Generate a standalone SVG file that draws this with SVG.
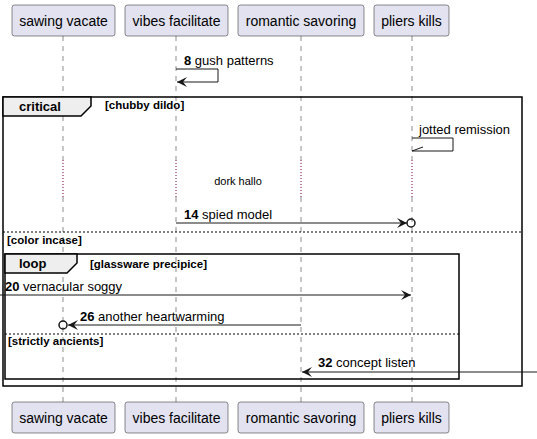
<svg xmlns="http://www.w3.org/2000/svg" width="537" height="439" viewBox="0 0 537 439">
<defs>
<style>
text{font-family:"Liberation Sans",Arial,sans-serif;fill:#000}
.pbox{fill:#E2E2F0;stroke:#181818;stroke-width:0.5}
.pt{font-size:14px}
.life{stroke:#181818;stroke-width:0.5;stroke-dasharray:5,5}
.delay{stroke:#800040;stroke-width:1;stroke-dasharray:1,2}
.msg{stroke:#181818;stroke-width:1;fill:none}
.mt{font-size:13px}
.num{font-weight:bold}
.frame{fill:none;stroke:#000;stroke-width:1.5}
.tab{fill:#EEEEEE;stroke:#000;stroke-width:1.5}
.ft{font-size:13px;font-weight:bold}
.fc{font-size:11.5px;font-weight:bold}
.sep{stroke:#000;stroke-width:1;stroke-dasharray:2,2}
</style>
<marker id="ah" markerWidth="12" markerHeight="10" refX="10" refY="5" orient="auto" markerUnits="userSpaceOnUse">
<path d="M0,0 L10,5 L0,10 L4,5 Z" fill="#181818"/>
</marker>
</defs>
<g id="lifelines">
<line class="life" x1="63" y1="36" x2="63" y2="160"/>
<line class="delay" x1="63" y1="160" x2="63" y2="197"/>
<line class="life" x1="63" y1="197" x2="63" y2="402"/>
<line class="life" x1="176" y1="36" x2="176" y2="160"/>
<line class="delay" x1="176" y1="160" x2="176" y2="197"/>
<line class="life" x1="176" y1="197" x2="176" y2="402"/>
<line class="life" x1="301" y1="36" x2="301" y2="160"/>
<line class="delay" x1="301" y1="160" x2="301" y2="197"/>
<line class="life" x1="301" y1="197" x2="301" y2="402"/>
<line class="life" x1="412" y1="36" x2="412" y2="160"/>
<line class="delay" x1="412" y1="160" x2="412" y2="197"/>
<line class="life" x1="412" y1="197" x2="412" y2="402"/>
</g>
<g id="frame-critical">
<rect class="frame" x="3" y="97" width="519" height="289"/>
<path class="tab" d="M3,97 H91 V106 L81,116 H3 Z"/>
<text class="ft" x="19" y="111">critical</text>
<text class="fc" x="105" y="109">[chubby dildo]</text>
<line class="sep" x1="3" y1="232" x2="522" y2="232"/>
<text class="fc" x="7" y="244">[color incase]</text>
</g>
<g id="frame-loop">
<rect class="frame" x="5" y="254" width="454" height="125"/>
<path class="tab" d="M5,254 H77 V263 L67,273 H5 Z"/>
<text class="ft" x="19" y="268">loop</text>
<text class="fc" x="90" y="268">[glassware precipice]</text>
<line class="sep" x1="5" y1="334" x2="459" y2="334"/>
<text class="fc" x="8" y="345">[strictly ancients]</text>
</g>
<g id="p-sawing-top"><rect class="pbox" x="12" y="5" width="103" height="31" rx="2.5"/><text class="pt" x="63.5" y="25.5" text-anchor="middle">sawing vacate</text></g>
<g id="p-vibes-top"><rect class="pbox" x="125" y="5" width="103" height="31" rx="2.5"/><text class="pt" x="176.5" y="25.5" text-anchor="middle">vibes facilitate</text></g>
<g id="p-romantic-top"><rect class="pbox" x="238" y="5" width="126" height="31" rx="2.5"/><text class="pt" x="301" y="25.5" text-anchor="middle">romantic savoring</text></g>
<g id="p-pliers-top"><rect class="pbox" x="374" y="5" width="75" height="31" rx="2.5"/><text class="pt" x="411.5" y="25.5" text-anchor="middle">pliers kills</text></g>
<g id="p-sawing-bottom"><rect class="pbox" x="12" y="402" width="103" height="31" rx="2.5"/><text class="pt" x="63.5" y="422.5" text-anchor="middle">sawing vacate</text></g>
<g id="p-vibes-bottom"><rect class="pbox" x="125" y="402" width="103" height="31" rx="2.5"/><text class="pt" x="176.5" y="422.5" text-anchor="middle">vibes facilitate</text></g>
<g id="p-romantic-bottom"><rect class="pbox" x="238" y="402" width="126" height="31" rx="2.5"/><text class="pt" x="301" y="422.5" text-anchor="middle">romantic savoring</text></g>
<g id="p-pliers-bottom"><rect class="pbox" x="374" y="402" width="75" height="31" rx="2.5"/><text class="pt" x="411.5" y="422.5" text-anchor="middle">pliers kills</text></g>
<g id="connectors">
<polyline class="msg" points="176,69 218,69 218,82 177,82" marker-end="url(#ah)"/>
<text class="mt" x="184" y="65"><tspan class="num">8</tspan> gush patterns</text>
<polyline class="msg" points="412,138 453,138 453,151 412,151"/>
<line class="msg" x1="412" y1="151" x2="423" y2="147"/>
<text class="mt" x="419" y="134">jotted remission</text>
<text x="238" y="185" font-size="11" text-anchor="middle">dork hallo</text>
<line class="msg" x1="176" y1="223" x2="407" y2="223" marker-end="url(#ah)"/>
<circle cx="411" cy="223" r="4" fill="none" stroke="#181818" stroke-width="1.5"/>
<text class="mt" x="184" y="219"><tspan class="num">14</tspan> spied model</text>
<line class="msg" x1="0" y1="295" x2="411" y2="295" marker-end="url(#ah)"/>
<text class="mt" x="5" y="291"><tspan class="num">20</tspan> vernacular soggy</text>
<line class="msg" x1="301" y1="325" x2="68" y2="325" marker-end="url(#ah)"/>
<circle cx="63" cy="325" r="4" fill="none" stroke="#181818" stroke-width="1.5"/>
<text class="mt" x="80" y="321"><tspan class="num">26</tspan> another heartwarming</text>
<line class="msg" x1="537" y1="372" x2="302" y2="372" marker-end="url(#ah)"/>
<text class="mt" x="318" y="367"><tspan class="num">32</tspan> concept listen</text>
</g>
</svg>
